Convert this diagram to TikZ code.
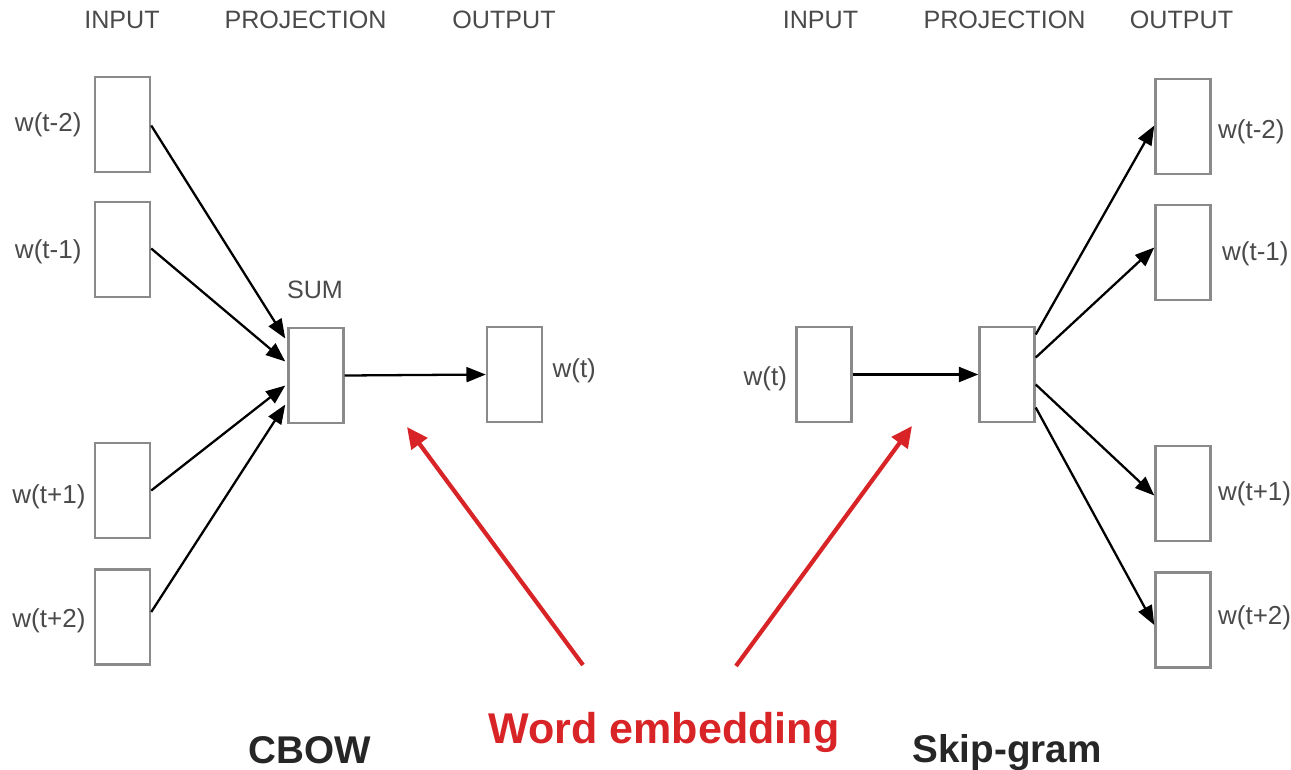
\documentclass[tikz,border=0pt]{standalone}
\usepackage{fontspec}
\setmainfont{Liberation Sans}
\usetikzlibrary{arrows.meta,calc,positioning}
\definecolor{boxgray}{HTML}{8A8A8A}
\definecolor{txtgray}{HTML}{4A4A4A}
\definecolor{embred}{HTML}{D92427}
\tikzset{
  wordbox/.style={draw=boxgray, line width=1.4pt, fill=white,
    minimum width=1.1cm, minimum height=1.9cm, inner sep=0pt},
  head/.style={text=txtgray, font=\fontsize{14.3}{17}\selectfont, inner sep=0pt},
  lbl/.style={text=txtgray, font=\fontsize{14.8}{18}\selectfont, inner sep=0pt},
  title/.style={text=black!85, font=\bfseries\fontsize{22}{26}\selectfont, inner sep=0pt, anchor=base},
  flow/.style={draw=black, line width=1.3pt, -{Triangle[length=11pt,width=8.5pt]}},
  embarrow/.style={draw=embred, line width=2.4pt, -{Triangle[length=12pt,width=11pt]}},
}
\begin{document}
\begin{tikzpicture}[x=0.02cm, y=-0.02cm]
\useasboundingbox (0,0) rectangle (1291,769);

% ---------------- CBOW ----------------
\node[head] (hin1)  at (122,20) {INPUT};
\node[head] (hpr1)  at (305.5,20) {PROJECTION};
\node[head] (hout1) at (504,20) {OUTPUT};

\node[wordbox] (cin1) at (122.5,124.5) {};
\node[wordbox] (cin2) at (122.5,249.5) {};
\node[wordbox] (cin3) at (122.5,490.5) {};
\node[wordbox] (cin4) at (122.5,617) {};
\node[wordbox] (sum)  at (316,375.5) {};
\node[wordbox] (cout) at (514.5,374.5) {};

\node[lbl, anchor=east] (lc1) at ($(cin1.west)+(-12,0)$) {w(t-2)};
\node[lbl, anchor=east] (lc2) at ($(cin2.west)+(-12,2)$) {w(t-1)};
\node[lbl, anchor=east] (lc3) at ($(cin3.west)+(-8,6)$) {w(t+1)};
\node[lbl, anchor=east] (lc4) at ($(cin4.west)+(-8,4)$) {w(t+2)};
\node[lbl, anchor=west] (lco) at ($(cout.east)+(9,-4)$) {w(t)};
\node[head] (sumlbl) at (315,290) {SUM};

\draw[flow] ($(cin1.east)+(0,1)$)  -- ($(sum.west)+(-2,-37)$);
\draw[flow] ($(cin2.east)+(0,-1)$) -- ($(sum.west)+(-2,-14)$);
\draw[flow] ($(cin3.east)+(0,0)$)  -- ($(sum.west)+(-2,10)$);
\draw[flow] ($(cin4.east)+(0,-5)$) -- ($(sum.west)+(-2,29)$);
\draw[flow] (sum.east) -- (cout.west);

\node[title] (cbow) at (310,763) {CBOW};

% ---------------- Skip-gram ----------------
\node[head] (hin2)  at (820.5,20) {INPUT};
\node[head] (hpr2)  at (1004.5,20) {PROJECTION};
\node[head] (hout2) at (1181.5,20) {OUTPUT};

\node[wordbox] (sin)  at (824,374.5) {};
\node[wordbox] (proj) at (1007,374.5) {};
\node[wordbox] (sout1) at (1183,126.5) {};
\node[wordbox] (sout2) at (1183,252.5) {};
\node[wordbox] (sout3) at (1183,493.5) {};
\node[wordbox] (sout4) at (1183,620) {};

\node[lbl, anchor=east] (lsi) at ($(sin.west)+(-8,4)$) {w(t)};
\node[lbl, anchor=west] (ls1) at ($(sout1.east)+(6,5)$) {w(t-2)};
\node[lbl, anchor=west] (ls2) at ($(sout2.east)+(10,1)$) {w(t-1)};
\node[lbl, anchor=west] (ls3) at ($(sout3.east)+(6,0)$) {w(t+1)};
\node[lbl, anchor=west] (ls4) at ($(sout4.east)+(6,-2)$) {w(t+2)};

\draw[flow] (sin.east) -- (proj.west);
\draw[flow] ($(proj.east)+(0,-40)$) -- ($(sout1.west)+(0,-1)$);
\draw[flow] ($(proj.east)+(0,-17)$) -- ($(sout2.west)+(0,-5)$);
\draw[flow] ($(proj.east)+(0,10)$)  -- ($(sout3.west)+(0,2)$);
\draw[flow] ($(proj.east)+(0,33)$)  -- ($(sout4.west)+(0,5)$);

\node[title] (skip) at (1007,762) {Skip-gram};

% ---------------- Word embedding ----------------
\node[text=embred, font=\bfseries\fontsize{24.5}{29}\selectfont, inner sep=0pt, anchor=base]
  (emb) at (664,743) {Word embedding};
\coordinate (eL) at (583,665);
\coordinate (eR) at (736,666);
\coordinate (tL) at (407,427);
\coordinate (tR) at (912,426);
\draw[embarrow] (eL) -- (tL);
\draw[embarrow] (eR) -- (tR);
\end{tikzpicture}
\end{document}
